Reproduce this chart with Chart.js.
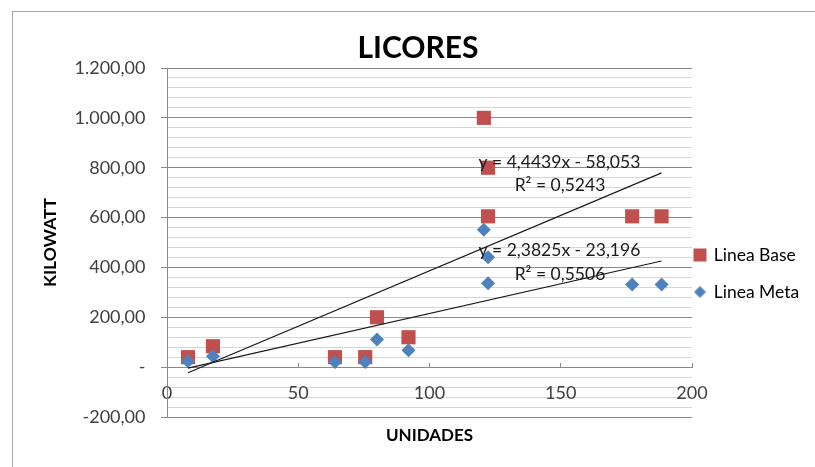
<!DOCTYPE html>
<html>
<head>
<meta charset="utf-8">
<script src="https://cdn.jsdelivr.net/npm/chart.js@4.4.0/dist/chart.umd.min.js"></script>
<style>
  html, body { margin: 0; padding: 0; background: #fff; overflow: hidden; }
  #wrap { position: relative; width: 815px; height: 467px; }
  #frame { position: absolute; left: 12px; top: 11px; width: 830px; height: 480px;
           border-left: 1px solid #a6a6a6; border-top: 1px solid #a6a6a6; }
  #chart { position: absolute; left: 0; top: 0; }
</style>
</head>
<body>
<div id="wrap">
  <div id="frame"></div>
  <canvas id="chart" width="815" height="467"></canvas>
</div>
<script>
// datos
const unidades   = [8, 17.5, 64, 75.5, 80, 92, 120.7, 122.3, 122.3, 177.2, 188.4];
const lineaBase  = [40, 84, 40, 40, 200, 120, 1000, 800, 605, 605, 605];
const lineaMeta  = [24, 44, 21, 21, 111, 68, 551, 441, 337, 332, 332];

// lineas de tendencia (extremos)
const tendenciaX    = [8, 188.4];
const tendenciaBase = [-22.5, 779.2];
const tendenciaMeta = [-4.1, 425.7];

const ecuaciones = ['y = 4,4439x - 58,053', 'R² = 0,5243', 'y = 2,3825x - 23,196', 'R² = 0,5506'];

const FONT = 'Lato';
const ROJO = '#C0504D';
const AZUL = '#4F81BD';

function toPoints(xs, ys) {
  return xs.map((x, i) => ({ x: x, y: ys[i] }));
}

function fmtKw(v) {
  if (v === 0) return '-';
  const partes = Math.abs(v).toFixed(2).split('.');
  const ent = partes[0].replace(/\B(?=(\d{3})+(?!\d))/g, '.');
  return (v < 0 ? '-' : '') + ent + ',' + partes[1];
}

// rombo chico para la leyenda
const romboLeyenda = document.createElement('canvas');
romboLeyenda.width = 13;
romboLeyenda.height = 13;
(function () {
  const c = romboLeyenda.getContext('2d');
  c.fillStyle = AZUL;
  c.beginPath();
  c.moveTo(6.5, 0.5); c.lineTo(12.5, 6.5); c.lineTo(6.5, 12.5); c.lineTo(0.5, 6.5);
  c.closePath();
  c.fill();
})();

// textos de las ecuaciones, colocados con las escalas
const etiquetasTendencia = {
  id: 'etiquetasTendencia',
  afterDatasetsDraw(chart, args, opts) {
    const ctx = chart.ctx;
    const sx = chart.scales.x, sy = chart.scales.y;
    ctx.save();
    ctx.font = '17.5px ' + FONT;
    ctx.fillStyle = '#1a1a1a';
    ctx.textAlign = 'center';
    ctx.textBaseline = 'middle';
    opts.pos.forEach((p, i) => {
      ctx.fillText(ecuaciones[i], sx.getPixelForValue(p[0]), sy.getPixelForValue(p[1]));
    });
    ctx.restore();
  }
};

// mover la leyenda como en Excel
const moverLeyenda = {
  id: 'moverLeyenda',
  afterLayout(chart, args, opts) {
    const lg = chart.legend;
    lg.left += opts.dx;
    lg.top += opts.dy; lg.bottom += opts.dy;
  }
};

const mayor = '#8a8a8a';
const menor = '#d6d6d6';

new Chart(document.getElementById('chart'), {
  type: 'scatter',
  data: {
    datasets: [
      {
        label: 'Linea Base',
        data: toPoints(unidades, lineaBase),
        pointStyle: 'rect',
        pointRadius: 10,
        pointHoverRadius: 10,
        backgroundColor: ROJO,
        borderColor: ROJO,
        borderWidth: 0,
        order: 2
      },
      {
        label: 'Linea Meta',
        data: toPoints(unidades, lineaMeta),
        pointStyle: 'rectRot',
        pointRadius: 7,
        pointHoverRadius: 7,
        backgroundColor: AZUL,
        borderColor: AZUL,
        borderWidth: 0,
        order: 1
      },
      {
        label: 'tendBase',
        data: toPoints(tendenciaX, tendenciaBase),
        showLine: true,
        pointRadius: 0,
        borderColor: '#1a1a1a',
        borderWidth: 1.2,
        order: 0
      },
      {
        label: 'tendMeta',
        data: toPoints(tendenciaX, tendenciaMeta),
        showLine: true,
        pointRadius: 0,
        borderColor: '#1a1a1a',
        borderWidth: 1.2,
        order: 0
      }
    ]
  },
  options: {
    responsive: false,
    animation: false,
    layout: { padding: { left: 21, right: 0, top: 0, bottom: 0 } },
    scales: {
      x: {
        type: 'linear',
        position: { y: 0 },
        min: 0,
        max: 200,
        border: { display: true, color: mayor, width: 1 },
        grid: { display: true, drawOnChartArea: false, tickLength: -5, color: mayor },
        ticks: { stepSize: 50, padding: 20.5, color: '#404040', font: { family: FONT, size: 18 } }
      },
      xt: {
        type: 'linear',
        position: 'bottom',
        min: 0,
        max: 200,
        border: { display: false },
        grid: { display: false, drawTicks: false },
        ticks: { display: false },
        title: {
          display: true, text: 'UNIDADES', color: '#000',
          font: { family: FONT, size: 17, weight: 'bold' },
          padding: { top: 0, bottom: 21 }
        },
        afterFit: s => { s.height = 50; }
      },
      y: {
        type: 'linear',
        position: 'left',
        min: -200,
        max: 1200,
        border: { display: true, color: mayor, width: 1 },
        grid: {
          color: c => (c.tick && c.tick.value % 200 === 0) ? mayor : menor,
          tickColor: c => (c.tick && c.tick.value % 200 === 0) ? mayor : 'rgba(0,0,0,0)',
          tickLength: 6,
          lineWidth: 1
        },
        ticks: {
          stepSize: 40,
          autoSkip: false,
          padding: 15.5,
          color: '#404040',
          font: { family: FONT, size: 18 },
          callback: v => (v % 200 === 0) ? fmtKw(v) : ''
        },
        title: {
          display: true, text: 'KILOWATT', color: '#000',
          font: { family: FONT, size: 17.5, weight: 'bold' },
          padding: { top: 19, bottom: 0 }
        },
        afterFit: s => { s.width = 146; }
      }
    },
    plugins: {
      title: {
        display: true,
        text: 'LICORES',
        color: '#000',
        font: { family: FONT, size: 30, weight: 'bold' },
        padding: { top: 30, bottom: 2 }
      },
      legend: {
        display: true,
        position: 'right',
        maxWidth: 123,
        labels: {
          usePointStyle: true,
          boxWidth: 10,
          boxHeight: 13,
          padding: 19.5,
          color: '#000',
          font: { family: FONT, size: 17.5 },
          generateLabels: chart => {
            const items = Chart.defaults.plugins.legend.labels.generateLabels(chart);
            items.forEach(it => { if (it.text === 'Linea Meta') it.pointStyle = romboLeyenda; });
            return items;
          },
          filter: it => it.text.indexOf('tend') !== 0,
          sort: (a, b) => a.datasetIndex - b.datasetIndex
        }
      },
      tooltip: { enabled: false },
      etiquetasTendencia: {
        pos: [[149.5, 821], [149.7, 728], [149.5, 468], [149.7, 372]]
      },
      moverLeyenda: { dx: -16.5, dy: 40 }
    }
  },
  plugins: [etiquetasTendencia, moverLeyenda]
});
</script>
</body>
</html>
